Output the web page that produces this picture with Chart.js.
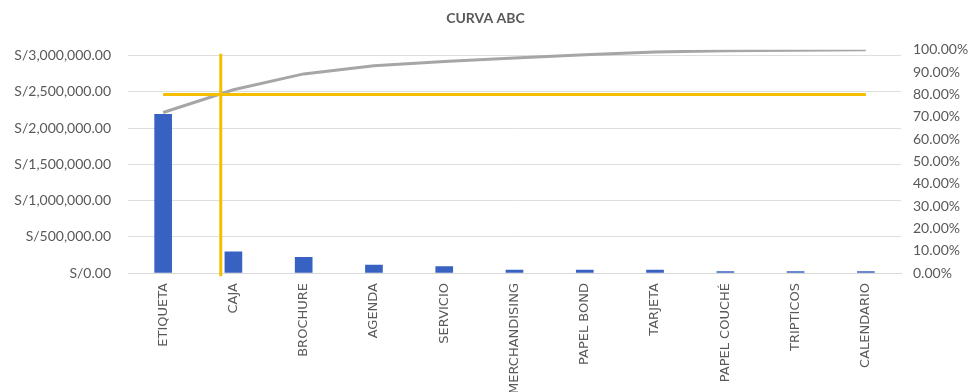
<!DOCTYPE html>
<html>
<head>
<meta charset="utf-8">
<script src="https://cdn.jsdelivr.net/npm/chart.js@4.4.1/dist/chart.umd.min.js"></script>
<style>
html,body{margin:0;padding:0;background:#fff;}
#wrap{width:971px;height:392px;position:relative;}
</style>
</head>
<body>
<div id="wrap"><canvas id="c" width="971" height="392"></canvas></div>
<script>
const categories = ['ETIQUETA','CAJA','BROCHURE','AGENDA','SERVICIO','MERCHANDISING','PAPEL BOND','TARJETA','PAPEL COUCHÉ','TRIPTICOS','CALENDARIO'];
const ventas = [2188000, 293000, 216000, 110000, 87000, 41000, 41000, 41000, 21000, 20000, 20000];
const porcentajeAcumulado = [71.9, 82.1, 89.2, 92.9, 94.8, 96.3, 97.8, 99.0, 99.6, 99.8, 100];
const corte80 = [80, 80, 80, 80, 80, 80, 80, 80, 80, 80, 80];
const corteVerticalX = [0.82, 0.82];
const corteVerticalY = [98.2, -1.5];
const leftTicks = [0, 500000, 1000000, 1500000, 2000000, 2500000, 3000000];
const rightTicks = [0, 10, 20, 30, 40, 50, 60, 70, 80, 90, 100];

const grey = '#595959';
const fontFam = 'Lato, "Open Sans", sans-serif';

new Chart(document.getElementById('c'), {
  data: {
    labels: categories,
    datasets: [
      {
        type: 'line',
        label: 'Corte vertical',
        data: corteVerticalX.map((x, i) => ({x: x, y: corteVerticalY[i]})),
        xAxisID: 'xv',
        yAxisID: 'y1',
        borderColor: '#f5bf00',
        borderWidth: 3,
        pointRadius: 0,
        clip: false,
        order: 0
      },
      {
        type: 'line',
        label: '80%',
        data: corte80,
        yAxisID: 'y1',
        borderColor: '#f5bf00',
        borderWidth: 3,
        pointRadius: 0,
        order: 1
      },
      {
        type: 'line',
        label: '% acumulado',
        data: porcentajeAcumulado,
        yAxisID: 'y1',
        borderColor: '#a6a6a6',
        borderWidth: 3,
        pointRadius: 0,
        tension: 0,
        order: 2
      },
      {
        type: 'bar',
        label: 'Ventas',
        data: ventas,
        yAxisID: 'y',
        backgroundColor: '#3762c2',
        grouped: false,
        barThickness: 17,
        order: 3
      }
    ]
  },
  options: {
    responsive: false,
    animation: false,
    layout: {padding: {left: 0, right: 0, top: 0, bottom: 0}},
    plugins: {
      legend: {display: false},
      tooltip: {enabled: false},
      title: {
        display: true,
        text: 'CURVA ABC',
        color: grey,
        font: {family: fontFam, size: 14, weight: 'bold'},
        padding: {top: 10, bottom: 23}
      }
    },
    scales: {
      x: {
        type: 'category',
        offset: true,
        grid: {display: false, drawTicks: false},
        border: {display: true, color: '#d9d9d9', width: 1},
        ticks: {
          color: grey,
          font: {family: '"DejaVu Sans", sans-serif', size: 13},
          minRotation: 90,
          maxRotation: 90,
          padding: 10,
          autoSkip: false
        },
        afterFit: s => { s.height = 119; }
      },
      xv: {
        type: 'linear',
        display: false,
        min: -0.5,
        max: 10.5
      },
      y: {
        type: 'linear',
        position: 'left',
        min: 0,
        max: 3080000,
        grid: {color: '#dedede', drawTicks: false},
        border: {display: false},
        afterBuildTicks: s => { s.ticks = leftTicks.map(v => ({value: v})); },
        ticks: {
          color: grey,
          padding: 17,
          font: {family: fontFam, size: 14},
          callback: v => 'S/' + Number(v).toLocaleString('en-US', {minimumFractionDigits: 2, maximumFractionDigits: 2})
        },
        afterFit: s => { s.width = 128; }
      },
      y1: {
        type: 'linear',
        position: 'right',
        min: 0,
        max: 100,
        grid: {display: false, drawTicks: false},
        border: {display: false},
        afterBuildTicks: s => { s.ticks = rightTicks.map(v => ({value: v})); },
        ticks: {
          color: grey,
          padding: 12,
          font: {family: fontFam, size: 14},
          callback: v => Number(v).toFixed(2) + '%'
        },
        afterFit: s => { s.width = 70; }
      }
    }
  }
});
</script>
</body>
</html>
